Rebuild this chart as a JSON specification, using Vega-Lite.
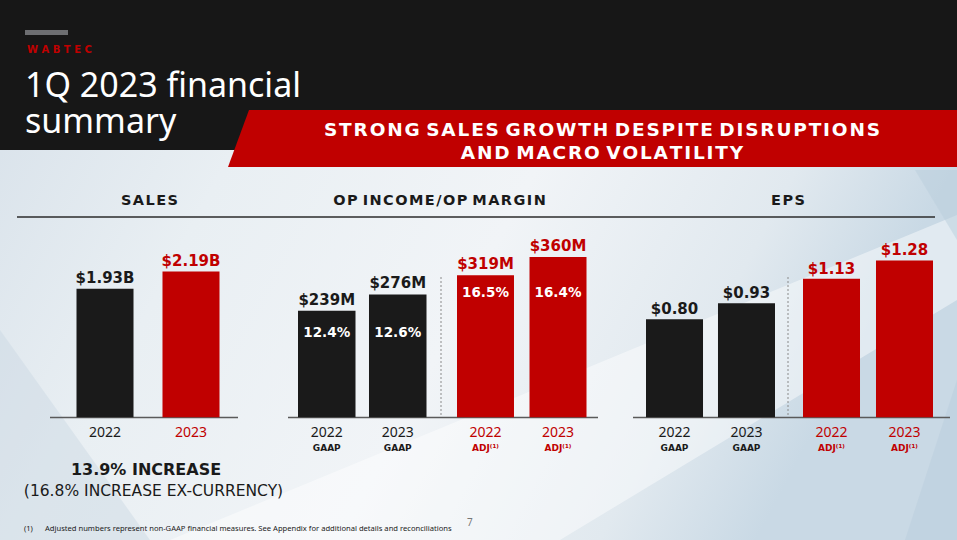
{
  "$schema": "https://vega.github.io/schema/vega-lite/v6.json",
  "width": 957,
  "height": 540,
  "padding": 0,
  "autosize": "none",
  "background": "#e8eef3",
  "config": {"view": {"stroke": null}},
  "datasets": {
    "fin": [
      {"panel": "Sales", "year": "2022", "basis": "", "value": 1.93, "label": "$1.93B", "margin": ""},
      {"panel": "Sales", "year": "2023", "basis": "", "value": 2.19, "label": "$2.19B", "margin": ""},
      {"panel": "Op income", "year": "2022", "basis": "GAAP", "value": 239, "label": "$239M", "margin": "12.4%"},
      {"panel": "Op income", "year": "2023", "basis": "GAAP", "value": 276, "label": "$276M", "margin": "12.6%"},
      {"panel": "Op income", "year": "2022", "basis": "ADJ", "value": 319, "label": "$319M", "margin": "16.5%"},
      {"panel": "Op income", "year": "2023", "basis": "ADJ", "value": 360, "label": "$360M", "margin": "16.4%"},
      {"panel": "EPS", "year": "2022", "basis": "GAAP", "value": 0.80, "label": "$0.80", "margin": ""},
      {"panel": "EPS", "year": "2023", "basis": "GAAP", "value": 0.93, "label": "$0.93", "margin": ""},
      {"panel": "EPS", "year": "2022", "basis": "ADJ", "value": 1.13, "label": "$1.13", "margin": ""},
      {"panel": "EPS", "year": "2023", "basis": "ADJ", "value": 1.28, "label": "$1.28", "margin": ""}
    ]
  },
  "layer": [
    {
      "data": {"values": [{}]},
      "mark": {"type": "rect", "fill": {"gradient": "linear", "x1": 0, "y1": 0, "x2": 1, "y2": 0.3, "stops": [
        {"offset": 0, "color": "#d6e0e9"},
        {"offset": 0.3, "color": "#e9eff3"},
        {"offset": 0.6, "color": "#f1f4f7"},
        {"offset": 0.85, "color": "#e1e9ef"},
        {"offset": 1, "color": "#c9d9e5"}
      ]}},
      "encoding": {"x": {"value": 0}, "x2": {"value": 957}, "y": {"value": 0}, "y2": {"value": 540}}
    },
    {
      "data": {"values": [{}]},
      "mark": {"type": "point", "shape": "M170,540L560,540L957,300L957,215Z", "size": 4, "filled": true, "color": "#ffffff", "opacity": 0.45, "strokeWidth": 0},
      "encoding": {"x": {"value": 0}, "y": {"value": 0}}
    },
    {
      "data": {"values": [{}]},
      "mark": {"type": "point", "shape": "M0,330L150,540L0,540Z", "size": 4, "filled": true, "color": "#c9d7e3", "opacity": 0.45, "strokeWidth": 0},
      "encoding": {"x": {"value": 0}, "y": {"value": 0}}
    },
    {
      "data": {"values": [{}]},
      "mark": {"type": "point", "shape": "M915,170L957,170L957,240Z", "size": 4, "filled": true, "color": "#b9cddc", "opacity": 0.5, "strokeWidth": 0},
      "encoding": {"x": {"value": 0}, "y": {"value": 0}}
    },
    {
      "data": {"values": [{}]},
      "mark": {"type": "point", "shape": "M957,380L957,540L905,540Z", "size": 4, "filled": true, "color": "#b9cddc", "opacity": 0.45, "strokeWidth": 0},
      "encoding": {"x": {"value": 0}, "y": {"value": 0}}
    },
    {
      "data": {"values": [{}]},
      "mark": {"type": "rect", "color": "#171717"},
      "encoding": {"x": {"value": 0}, "x2": {"value": 957}, "y": {"value": 0}, "y2": {"value": 150}}
    },
    {
      "data": {"values": [{}]},
      "mark": {"type": "rect", "color": "#6d6e71"},
      "encoding": {"x": {"value": 25}, "x2": {"value": 68}, "y": {"value": 30}, "y2": {"value": 35}}
    },
    {
      "data": {"values": [{}]},
      "mark": {"type": "text", "text": "W A B T E C", "font": "DejaVu Sans", "fontWeight": "bold", "fontSize": 10, "color": "#c00000", "align": "left", "baseline": "alphabetic"},
      "encoding": {"x": {"value": 27}, "y": {"value": 53.3}}
    },
    {
      "data": {"values": [{}]},
      "mark": {"type": "text", "text": ["1Q 2023 financial", "summary"], "lineHeight": 36.6, "font": "Noto Sans", "fontSize": 34, "color": "#ffffff", "align": "left", "baseline": "alphabetic"},
      "encoding": {"x": {"value": 25}, "y": {"value": 96.7}}
    },
    {
      "data": {"values": [{}]},
      "mark": {"type": "point", "shape": "M249,110L957,110L957,167L228,167Z", "size": 4, "filled": true, "color": "#c00000", "opacity": 1, "strokeWidth": 0},
      "encoding": {"x": {"value": 0}, "y": {"value": 0}}
    },
    {
      "data": {"values": [{}]},
      "mark": {"type": "text", "text": "S\u200aT\u200aR\u200aO\u200aN\u200aG S\u200aA\u200aL\u200aE\u200aS G\u200aR\u200aO\u200aW\u200aT\u200aH D\u200aE\u200aS\u200aP\u200aI\u200aT\u200aE D\u200aI\u200aS\u200aR\u200aU\u200aP\u200aT\u200aI\u200aO\u200aN\u200aS", "font": "DejaVu Sans", "fontWeight": "bold", "fontSize": 18.5, "color": "#ffffff", "align": "center", "baseline": "middle"},
      "encoding": {"x": {"value": 602}, "y": {"value": 130}}
    },
    {
      "data": {"values": [{}]},
      "mark": {"type": "text", "text": "A\u200aN\u200aD M\u200aA\u200aC\u200aR\u200aO V\u200aO\u200aL\u200aA\u200aT\u200aI\u200aL\u200aI\u200aT\u200aY", "font": "DejaVu Sans", "fontWeight": "bold", "fontSize": 18.5, "color": "#ffffff", "align": "center", "baseline": "middle"},
      "encoding": {"x": {"value": 602}, "y": {"value": 152.5}}
    },
    {
      "data": {"values": [{"h": "S\u200aA\u200aL\u200aE\u200aS", "c": 149.5}, {"h": "O\u200aP I\u200aN\u200aC\u200aO\u200aM\u200aE\u200a/\u200aO\u200aP M\u200aA\u200aR\u200aG\u200aI\u200aN", "c": 439.5}, {"h": "E\u200aP\u200aS", "c": 788}]},
      "mark": {"type": "text", "font": "DejaVu Sans", "fontWeight": "bold", "fontSize": 14.5, "color": "#1a1a1a", "align": "center", "baseline": "middle"},
      "encoding": {"x": {"field": "c", "type": "quantitative", "scale": null}, "y": {"value": 201}, "text": {"field": "h"}}
    },
    {
      "data": {"values": [{}]},
      "mark": {"type": "rule", "color": "#2b2b2b", "strokeWidth": 1.5},
      "encoding": {"x": {"value": 17}, "x2": {"value": 935}, "y": {"value": 217}}
    },
    {
      "data": {"values": [{}]},
      "mark": {"type": "rule", "color": "#5a5a5a", "strokeWidth": 1.5},
      "encoding": {"x": {"value": 50}, "x2": {"value": 238}, "y": {"value": 417.5}}
    },
    {
      "data": {"values": [{}]},
      "mark": {"type": "rule", "color": "#5a5a5a", "strokeWidth": 1.5},
      "encoding": {"x": {"value": 288}, "x2": {"value": 598}, "y": {"value": 417.5}}
    },
    {
      "data": {"values": [{}]},
      "mark": {"type": "rule", "color": "#5a5a5a", "strokeWidth": 1.5},
      "encoding": {"x": {"value": 633}, "x2": {"value": 950}, "y": {"value": 417.5}}
    },
    {
      "data": {"values": [{}]},
      "mark": {"type": "rule", "color": "#8a8a8a", "strokeWidth": 1, "strokeDash": [2, 2]},
      "encoding": {"x": {"value": 441}, "y": {"value": 277}, "y2": {"value": 417}}
    },
    {
      "data": {"values": [{}]},
      "mark": {"type": "rule", "color": "#8a8a8a", "strokeWidth": 1, "strokeDash": [2, 2]},
      "encoding": {"x": {"value": 788}, "y": {"value": 277}, "y2": {"value": 417}}
    },
    {
      "data": {"name": "fin"},
      "transform": [{"filter": "datum.panel === 'Sales'"}],
      "encoding": {
        "x": {"field": "year", "type": "nominal", "axis": null, "scale": {"range": [76.5, 219.5], "paddingInner": 0.337, "paddingOuter": 0}},
        "y": {"field": "value", "type": "quantitative", "axis": null, "scale": {"domain": [0, 6.27], "range": [417.3, 0], "nice": false}},
        "color": {"field": "year", "type": "nominal", "legend": null, "scale": {"domain": ["2022", "2023"], "range": ["#1a1a1a", "#c00000"]}}
      },
      "layer": [
        {"mark": {"type": "bar"}},
        {"mark": {"type": "text", "font": "DejaVu Sans", "fontWeight": "bold", "fontSize": 15, "baseline": "alphabetic", "dy": -6}, "encoding": {"text": {"field": "label"}}},
        {"mark": {"type": "text", "font": "Noto Sans", "fontSize": 14, "baseline": "middle"}, "encoding": {"y": {"value": 432.5}, "text": {"field": "year"}}}
      ]
    },
    {
      "data": {"name": "fin"},
      "transform": [{"filter": "datum.panel === 'Op income' && datum.basis === 'GAAP'"}],
      "encoding": {
        "x": {"field": "year", "type": "nominal", "axis": null, "scale": {"range": [298, 426.5], "paddingInner": 0.19, "paddingOuter": 0}},
        "y": {"field": "value", "type": "quantitative", "axis": null, "scale": {"domain": [0, 937], "range": [417.3, 0], "nice": false}}
      },
      "layer": [
        {"mark": {"type": "bar", "color": "#1a1a1a"}},
        {"mark": {"type": "text", "font": "DejaVu Sans", "fontWeight": "bold", "fontSize": 15, "baseline": "alphabetic", "dy": -6, "color": "#1a1a1a"}, "encoding": {"text": {"field": "label"}}},
        {"mark": {"type": "text", "font": "DejaVu Sans", "fontWeight": "bold", "fontSize": 13.5, "baseline": "middle", "color": "#ffffff"}, "encoding": {"y": {"value": 333}, "text": {"field": "margin"}}},
        {"mark": {"type": "text", "font": "Noto Sans", "fontSize": 14, "baseline": "middle", "color": "#1a1a1a"}, "encoding": {"y": {"value": 432.5}, "text": {"field": "year"}}},
        {"mark": {"type": "text", "font": "DejaVu Sans", "fontWeight": "bold", "fontSize": 9, "baseline": "middle", "color": "#1a1a1a"}, "encoding": {"y": {"value": 447.5}, "text": {"field": "basis"}}}
      ]
    },
    {
      "data": {"name": "fin"},
      "transform": [{"filter": "datum.panel === 'Op income' && datum.basis === 'ADJ'"}],
      "encoding": {
        "x": {"field": "year", "type": "nominal", "axis": null, "scale": {"range": [457, 586.5], "paddingInner": 0.214, "paddingOuter": 0}},
        "y": {"field": "value", "type": "quantitative", "axis": null, "scale": {"domain": [0, 937], "range": [417.3, 0], "nice": false}}
      },
      "layer": [
        {"mark": {"type": "bar", "color": "#c00000"}},
        {"mark": {"type": "text", "font": "DejaVu Sans", "fontWeight": "bold", "fontSize": 15, "baseline": "alphabetic", "dy": -6, "color": "#c00000"}, "encoding": {"text": {"field": "label"}}},
        {"mark": {"type": "text", "font": "DejaVu Sans", "fontWeight": "bold", "fontSize": 13.5, "baseline": "middle", "color": "#ffffff"}, "encoding": {"y": {"value": 293}, "text": {"field": "margin"}}},
        {"mark": {"type": "text", "font": "Noto Sans", "fontSize": 14, "baseline": "middle", "color": "#c00000"}, "encoding": {"y": {"value": 432.5}, "text": {"field": "year"}}},
        {"mark": {"type": "text", "font": "DejaVu Sans", "fontWeight": "bold", "fontSize": 9, "baseline": "middle", "color": "#c00000"}, "encoding": {"y": {"value": 447.5}, "text": {"value": "ADJ⁽¹⁾"}}}
      ]
    },
    {
      "data": {"name": "fin"},
      "transform": [{"filter": "datum.panel === 'EPS' && datum.basis === 'GAAP'"}],
      "encoding": {
        "x": {"field": "year", "type": "nominal", "axis": null, "scale": {"range": [646, 775], "paddingInner": 0.208, "paddingOuter": 0}},
        "y": {"field": "value", "type": "quantitative", "axis": null, "scale": {"domain": [0, 3.404], "range": [417.3, 0], "nice": false}}
      },
      "layer": [
        {"mark": {"type": "bar", "color": "#1a1a1a"}},
        {"mark": {"type": "text", "font": "DejaVu Sans", "fontWeight": "bold", "fontSize": 15, "baseline": "alphabetic", "dy": -5, "color": "#1a1a1a"}, "encoding": {"text": {"field": "label"}}},
        {"mark": {"type": "text", "font": "Noto Sans", "fontSize": 14, "baseline": "middle", "color": "#1a1a1a"}, "encoding": {"y": {"value": 432.5}, "text": {"field": "year"}}},
        {"mark": {"type": "text", "font": "DejaVu Sans", "fontWeight": "bold", "fontSize": 9, "baseline": "middle", "color": "#1a1a1a"}, "encoding": {"y": {"value": 447.5}, "text": {"field": "basis"}}}
      ]
    },
    {
      "data": {"name": "fin"},
      "transform": [{"filter": "datum.panel === 'EPS' && datum.basis === 'ADJ'"}],
      "encoding": {
        "x": {"field": "year", "type": "nominal", "axis": null, "scale": {"range": [803, 933], "paddingInner": 0.219, "paddingOuter": 0}},
        "y": {"field": "value", "type": "quantitative", "axis": null, "scale": {"domain": [0, 3.404], "range": [417.3, 0], "nice": false}}
      },
      "layer": [
        {"mark": {"type": "bar", "color": "#c00000"}},
        {"mark": {"type": "text", "font": "DejaVu Sans", "fontWeight": "bold", "fontSize": 15, "baseline": "alphabetic", "dy": -5, "color": "#c00000"}, "encoding": {"text": {"field": "label"}}},
        {"mark": {"type": "text", "font": "Noto Sans", "fontSize": 14, "baseline": "middle", "color": "#c00000"}, "encoding": {"y": {"value": 432.5}, "text": {"field": "year"}}},
        {"mark": {"type": "text", "font": "DejaVu Sans", "fontWeight": "bold", "fontSize": 9, "baseline": "middle", "color": "#c00000"}, "encoding": {"y": {"value": 447.5}, "text": {"value": "ADJ⁽¹⁾"}}}
      ]
    },
    {
      "data": {"values": [{}]},
      "mark": {"type": "text", "text": "13.9% INCREASE", "font": "DejaVu Sans", "fontWeight": "bold", "fontSize": 16, "color": "#1a1a1a", "align": "center", "baseline": "middle"},
      "encoding": {"x": {"value": 146}, "y": {"value": 469.5}}
    },
    {
      "data": {"values": [{}]},
      "mark": {"type": "text", "text": "(16.8% INCREASE EX-CURRENCY)", "font": "DejaVu Sans", "fontSize": 15.5, "color": "#1a1a1a", "align": "center", "baseline": "middle"},
      "encoding": {"x": {"value": 153.5}, "y": {"value": 491}}
    },
    {
      "data": {"values": [{}]},
      "mark": {"type": "text", "text": "(1)", "font": "Noto Sans", "fontSize": 7.6, "color": "#1a1a1a", "align": "left", "baseline": "middle"},
      "encoding": {"x": {"value": 24}, "y": {"value": 528.5}}
    },
    {
      "data": {"values": [{}]},
      "mark": {"type": "text", "text": "Adjusted numbers represent non-GAAP financial measures.  See Appendix for additional details and reconciliations", "font": "Noto Sans", "fontSize": 7.6, "color": "#1a1a1a", "align": "left", "baseline": "middle"},
      "encoding": {"x": {"value": 45}, "y": {"value": 528.5}}
    },
    {
      "data": {"values": [{}]},
      "mark": {"type": "text", "text": "7", "font": "Noto Sans", "fontSize": 10, "color": "#777777", "align": "left", "baseline": "middle"},
      "encoding": {"x": {"value": 467}, "y": {"value": 523}}
    }
  ],
  "resolve": {"scale": {"x": "independent", "y": "independent", "color": "independent"}}
}
